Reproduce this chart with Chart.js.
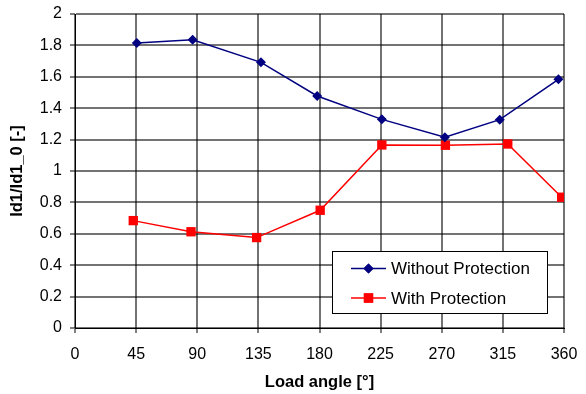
<!DOCTYPE html>
<html>
<head>
<meta charset="utf-8">
<script src="https://cdn.jsdelivr.net/npm/chart.js@4"></script>
<style>
  html, body { margin: 0; padding: 0; background: #fff; }
  #wrap { width: 586px; height: 394px; }
</style>
</head>
<body>
<div id="wrap"><canvas id="chart" width="586" height="394"></canvas></div>
<script>
// ---- data ----
const angleWithout = [45.5, 86.6, 136.9, 178.3, 225.9, 272.3, 312.7, 355.9];
const ratioWithout = [1.815, 1.836, 1.692, 1.478, 1.329, 1.215, 1.327, 1.584];
const angleWith = [42.9, 85.4, 133.7, 180.5, 225.9, 272.7, 318.6, 358.3];
const ratioWith = [0.684, 0.613, 0.576, 0.75, 1.166, 1.164, 1.172, 0.833];
const seriesNames = ["Without Protection", "With Protection"];

const FONT = "'Liberation Sans', Arial, sans-serif";

function toPoints(xs, ys) {
    return xs.map((x, i) => ({ x: x, y: ys[i] }));
}

// legend drawn inside the plot area like the original
const boxLegend = {
    id: 'boxLegend',
    afterDatasetsDraw(chart) {
        const ctx = chart.ctx;
        const x0 = 332, y0 = 251, w = 215, h = 62;
        ctx.save();
        ctx.fillStyle = '#fff';
        ctx.fillRect(x0, y0, w, h);
        ctx.strokeStyle = '#000';
        ctx.lineWidth = 1;
        ctx.strokeRect(x0 + 0.5, y0 + 0.5, w, h);
        chart.data.datasets.forEach((ds, i) => {
            const y = y0 + 17.5 + i * 29.5;
            ctx.strokeStyle = ds.borderColor;
            ctx.lineWidth = ds.borderWidth;
            ctx.beginPath();
            ctx.moveTo(351, y);
            ctx.lineTo(386, y);
            ctx.stroke();
            ctx.fillStyle = ds.pointBackgroundColor;
            Chart.helpers.drawPoint(ctx, { pointStyle: ds.pointStyle, radius: ds.pointRadius, borderWidth: 0 }, 368.5, y);
            ctx.fill();
            ctx.fillStyle = '#000';
            ctx.font = '17px ' + FONT;
            ctx.textBaseline = 'middle';
            ctx.fillText(ds.label, 391, y + 1);
        });
        ctx.restore();
    }
};

const ctx = document.getElementById('chart').getContext('2d');
new Chart(ctx, {
    type: 'line',
    data: {
        datasets: [
            {
                label: seriesNames[0],
                data: toPoints(angleWithout, ratioWithout),
                borderColor: '#000080',
                backgroundColor: '#000080',
                pointBackgroundColor: '#000080',
                pointBorderColor: '#000080',
                borderWidth: 1.5,
                pointStyle: 'rectRot',
                pointRadius: 5,
                pointBorderWidth: 0,
                tension: 0
            },
            {
                label: seriesNames[1],
                data: toPoints(angleWith, ratioWith),
                borderColor: '#ff0000',
                backgroundColor: '#ff0000',
                pointBackgroundColor: '#ff0000',
                pointBorderColor: '#ff0000',
                borderWidth: 1.5,
                pointStyle: 'rect',
                pointRadius: 6.6,
                pointBorderWidth: 0,
                tension: 0
            }
        ]
    },
    options: {
        responsive: false,
        animation: false,
        layout: { padding: { left: 0, right: 22, top: 14, bottom: 0 } },
        plugins: { legend: { display: false }, tooltip: { enabled: false } },
        scales: {
            x: {
                type: 'linear',
                min: 0, max: 360,
                afterFit: (s) => { s.height = 66; s.paddingLeft = 0; s.paddingRight = 0; },
                ticks: { stepSize: 45, color: '#000', font: { family: FONT, size: 16 }, padding: 12, maxRotation: 0 },
                grid: { color: 'rgba(0,0,0,0.55)', lineWidth: 2, tickLength: 5, tickColor: '#000', tickWidth: 1 },
                border: { color: '#000', width: 1 },
                title: { display: true, text: 'Load angle [°]', color: '#000', font: { family: FONT, size: 16.5, weight: 'bold' }, padding: { top: 0, bottom: 2 } }
            },
            y: {
                min: 0, max: 2,
                afterFit: (s) => { s.width = 75; s.paddingTop = 0; s.paddingBottom = 0; },
                ticks: { stepSize: 0.2, color: '#000', font: { family: FONT, size: 16 }, padding: 8, callback: (v) => String(+v.toFixed(1)) },
                grid: { color: 'rgba(0,0,0,0.55)', lineWidth: 2, tickLength: 5, tickColor: '#000', tickWidth: 1 },
                border: { color: '#000', width: 1 },
                title: { display: true, text: 'Id1/Id1_0 [-]', color: '#000', font: { family: FONT, size: 16.5, weight: 'bold' }, padding: { top: 8, bottom: 0 } }
            }
        }
    },
    plugins: [boxLegend]
});
</script>
</body>
</html>
